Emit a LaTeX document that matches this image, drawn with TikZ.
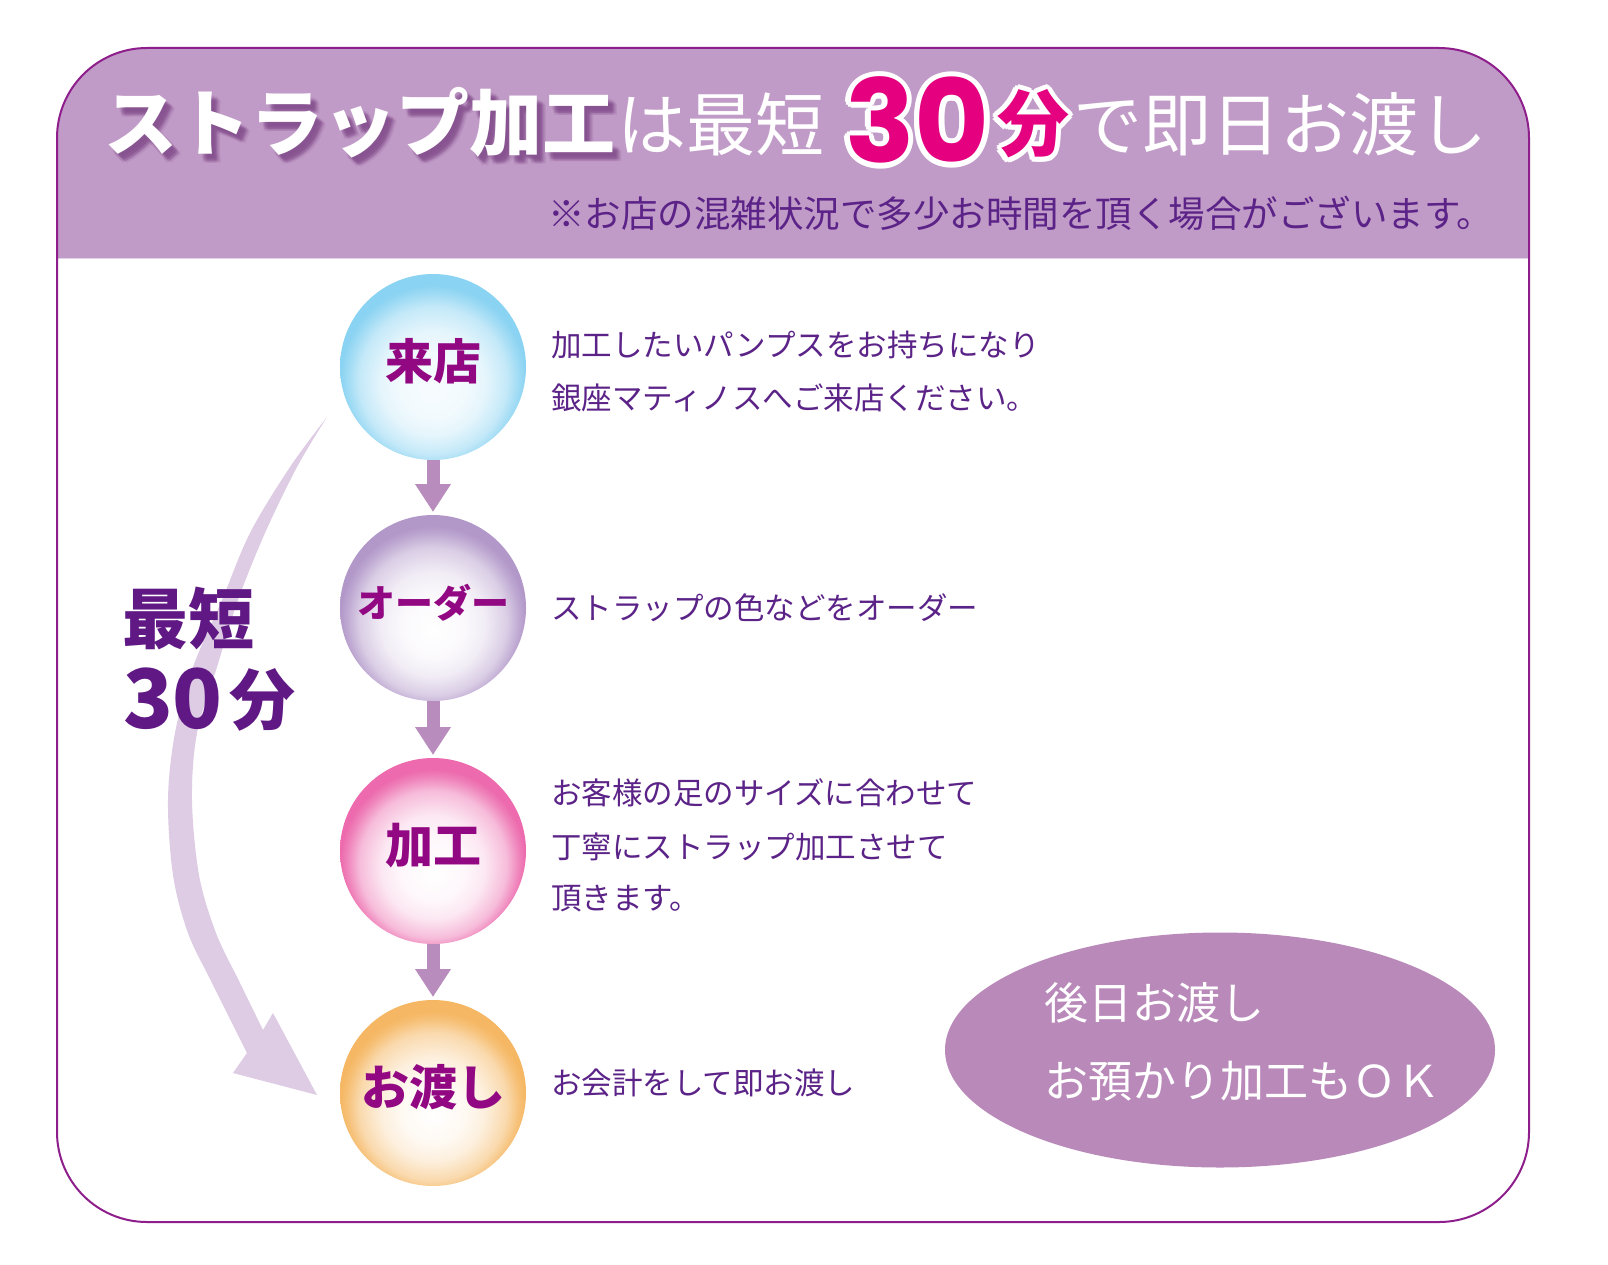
\documentclass[tikz,border=0pt]{standalone}
\usepackage{fontspec}
\setmainfont{Noto Sans CJK JP}
\newfontfamily\popfont{Poppins}
\usetikzlibrary{arrows.meta,shapes.geometric}
\newcommand\setfs[1]{\fontsize{#1pt}{#1pt}\selectfont}
\definecolor{hdr}{RGB}{193,155,199}
\definecolor{framec}{RGB}{142,30,140}
\definecolor{flowc}{RGB}{185,140,190}
\definecolor{swc}{RGB}{221,204,228}
\definecolor{ellc}{RGB}{185,137,186}
\definecolor{lblc}{RGB}{145,8,130}
\definecolor{deepc}{RGB}{96,25,132}
\definecolor{descc}{RGB}{91,35,135}
\definecolor{magc}{RGB}{228,0,127}
\definecolor{shc}{RGB}{110,50,120}
\definecolor{rimA}{RGB}{138,211,242}
\definecolor{rimB}{RGB}{178,152,201}
\definecolor{rimC}{RGB}{236,106,173}
\definecolor{rimD}{RGB}{245,183,99}
\pgfdeclareradialshading{shA}{\pgfpoint{0bp}{-6bp}}{color(0bp)=(rimA!7!white); color(8.5bp)=(rimA!11!white); color(14bp)=(rimA!22!white); color(19.8bp)=(rimA!50!white); color(23.3bp)=(rimA!85!white); color(25bp)=(rimA); color(50bp)=(rimA)}
\pgfdeclareradialshading{shB}{\pgfpoint{0bp}{-6bp}}{color(0bp)=(white); color(8.5bp)=(rimB!6!white); color(14bp)=(rimB!18!white); color(19.8bp)=(rimB!48!white); color(23.3bp)=(rimB!85!white); color(25bp)=(rimB); color(50bp)=(rimB)}
\pgfdeclareradialshading{shC}{\pgfpoint{0bp}{-6bp}}{color(0bp)=(white); color(8.5bp)=(rimC!5!white); color(14bp)=(rimC!16!white); color(19.8bp)=(rimC!45!white); color(23.3bp)=(rimC!85!white); color(25bp)=(rimC); color(50bp)=(rimC)}
\pgfdeclareradialshading{shD}{\pgfpoint{0bp}{-6bp}}{color(0bp)=(white); color(8.5bp)=(rimD!8!white); color(14bp)=(rimD!22!white); color(19.8bp)=(rimD!52!white); color(23.3bp)=(rimD!88!white); color(25bp)=(rimD); color(50bp)=(rimD)}
\tikzset{
  txt/.style={inner sep=0pt, outer sep=0pt, anchor=base west},
  flow/.style={line width=13pt, draw=flowc, -{Triangle[width=34pt,length=28pt]}, shorten >=3pt},
  stepc/.style={circle, minimum size=186pt, inner sep=0pt, outer sep=0pt},
  lbl/.style={inner sep=0pt, anchor=base, yshift=-12pt, text=lblc},
}
\begin{document}
\begin{tikzpicture}[x=1pt,y=-1pt]
\useasboundingbox (0,0) rectangle (1608,1265);
\fill[white] (0,0) rectangle (1608,1265);
% header band
\begin{scope}
  \clip[rounded corners=90pt] (57,48) rectangle (1529,1222);
  \fill[hdr] (57,48) rectangle (1529,259);
  \draw[hdr!45!white, line width=1.5pt] (57,258.5) -- (1529,258.5);
\end{scope}
\draw[framec, line width=2pt, rounded corners=90pt] (57,48) rectangle (1529,1222);
% title shadow (soft, several faint copies)
\foreach \dx/\dy [count=\k] in {3/4,5/6,7/8,4/7,6/5,8/7,5/9,9/9,6/7}
  \node[txt, text=shc, opacity=0.11, font={\setfs{73}\bfseries}] (sh\k) at ({104+\dx},{151+\dy}) {ストラップ加工};
\node[txt, text=white, font={\setfs{73}\bfseries}] (t1) at (104,151) {ストラップ加工};
\node[txt, text=white, font=\setfs{69}] (t2) at (617,151) {は最短};
% 30 and 分 with white outline
\foreach \a [count=\k] in {0,30,...,330}{
  \node[txt, text=white, font={\popfont\setfs{115}\bfseries}] (oa\k) at ({845+5.5*cos(\a)},{163+5.5*sin(\a)}) {30};
  \node[txt, text=white, font={\setfs{72}\bfseries}] (ob\k) at ({997+5*cos(\a)},{151+5*sin(\a)}) {分};
}
\node[txt, text=magc, font={\popfont\setfs{115}\bfseries}] (t3) at (845,163) {30};
\node[txt, text=magc, font={\setfs{72}\bfseries}] (t4) at (997,151) {分};
\node[txt, text=white, font=\setfs{69}] (t5) at (1073,151) {で即日お渡し};
\node[txt, text=descc, font=\setfs{36.5}] (sub) at (548,228) {※お店の混雑状況で多少お時間を頂く場合がございます。};
% swoosh arrow
\fill[swc] plot[smooth, tension=0.55] coordinates {(327,417) (290,467) (250,533) (222,600) (193,667) (175,733) (168,800) (173,875) (188,933) (212,983) (247,1053)}
  -- (233,1073) -- (317,1095) -- (273,1013)
  -- plot[smooth, tension=0.55] coordinates {(263,1030) (240,983) (216,933) (199,875) (192,800) (197,733) (217,667) (238,600) (265,533) (297,467) (327,417)} -- cycle;
\node[txt, text=deepc, font={\setfs{66}\bfseries}] (sa) at (122,643) {最短};
\node[txt, text=deepc, font={\setfs{82}\bfseries}] (sb) at (123,728) {30};
\node[txt, text=deepc, font={\setfs{66}\bfseries}] (sc) at (229,724) {分};
% step circles
\node[stepc, shading=shA] (c1) at (433,367) {};
\node[stepc, shading=shB] (c2) at (433,608) {};
\node[stepc, shading=shC] (c3) at (433,851) {};
\node[stepc, shading=shD] (c4) at (433,1093) {};
\node[lbl, font={\setfs{48}\bfseries}] (l1) at (c1) {来店};
\node[lbl, font={\setfs{38}\bfseries}, yshift=3pt] (l2) at (c2) {オーダー};
\node[lbl, font={\setfs{48}\bfseries}] (l3) at (c3) {加工};
\node[lbl, font={\setfs{48}\bfseries}] (l4) at (c4) {お渡し};
\draw[flow] (c1) -- (c2);
\draw[flow] (c2) -- (c3);
\draw[flow] (c3) -- (c4);
% descriptions
\node[txt, text=descc, font=\setfs{30.5}] (d1a) at (551,356) {加工したいパンプスをお持ちになり};
\node[txt, text=descc, font=\setfs{30.5}] (d1b) at (551,409) {銀座マティノスへご来店ください。};
\node[txt, text=descc, font=\setfs{30.5}] (d2) at (551,619) {ストラップの色などをオーダー};
\node[txt, text=descc, font=\setfs{30.5}] (d3a) at (551,804) {お客様の足のサイズに合わせて};
\node[txt, text=descc, font=\setfs{30.5}] (d3b) at (551,858) {丁寧にストラップ加工させて};
\node[txt, text=descc, font=\setfs{30.5}] (d3c) at (551,909) {頂きます。};
\node[txt, text=descc, font=\setfs{30.5}] (d4) at (551,1094) {お会計をして即お渡し};
% ellipse
\node[ellipse, fill=ellc, minimum width=550pt, minimum height=235pt, inner sep=0pt] (ell) at (1220,1050) {};
\node[txt, text=white, font=\setfs{44}] (e1) at (1044,1019) {後日お渡し};
\node[txt, text=white, font=\setfs{44}] (e2) at (1044,1097) {お預かり加工もＯＫ};
\end{tikzpicture}
\end{document}
